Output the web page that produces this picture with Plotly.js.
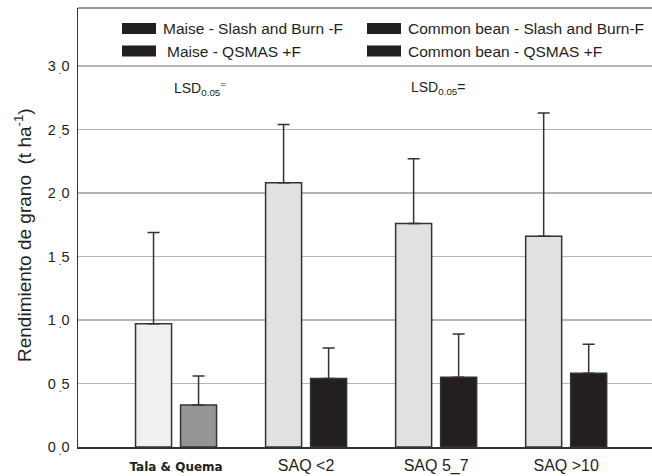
<!DOCTYPE html>
<html><head><meta charset="utf-8">
<script src="https://cdn.plot.ly/plotly-3.0.1.min.js"></script>
<style>html,body{margin:0;padding:0;background:#fff}</style>
</head><body><div id="chart" style="width:652px;height:476px"></div>
<script>
const categories = ["Tala & Quema", "SAQ <2", "SAQ 5_7", "SAQ >10"];
const tickLabels = ["<b><span style='font-family:DejaVu Sans;font-size:12px'>Tala &amp; Quema</span></b>", "SAQ <2", "SAQ 5_7", "SAQ >10"];
const maizeYield = [0.97, 2.08, 1.76, 1.66];
const maizeErr = [0.72, 0.46, 0.51, 0.97];
const beanYield = [0.33, 0.54, 0.55, 0.58];
const beanErr = [0.23, 0.24, 0.34, 0.23];
const maizeColors = ["#eff0ef", "#e0e1e2", "#e0e1e2", "#e0e1e2"];
const beanColors = ["#959595", "#231f20", "#231f20", "#231f20"];
const legendLabels = ["Maise - Slash and Burn -F", "Common bean - Slash and Burn-F", "Maise - QSMAS +F", "Common bean - QSMAS +F"];
const yTickVals = [0, 0.5, 1, 1.5, 2, 2.5, 3];
const yTickText = ["0<sub> .</sub>0", "0<sub> .</sub>5", "1<sub> .</sub>0", "1<sub> .</sub>5", "2<sub> .</sub>0", "2<sub> .</sub>5", "3<sub> .</sub>0"];
const yTitle = "Rendimiento de grano  (t ha<sup>-1</sup>)";

const errStyle = {type: 'data', symmetric: false, thickness: 1.5, width: 6, color: '#333'};
const traces = [
  {type: 'bar', x: categories, y: maizeYield, name: 'Maize',
   marker: {color: maizeColors, line: {color: '#333', width: 1.5}},
   error_y: Object.assign({}, errStyle, {array: maizeErr, arrayminus: maizeErr.map(() => 0)}),
   showlegend: false, hoverinfo: 'skip'},
  {type: 'bar', x: categories, y: beanYield, name: 'Bean',
   marker: {color: beanColors, line: {color: '#333', width: 1.5}},
   error_y: Object.assign({}, errStyle, {array: beanErr, arrayminus: beanErr.map(() => 0)}),
   showlegend: false, hoverinfo: 'skip'}
];

const W = 652, H = 476, L = 78, T = 8, B = 447;
const px = x => (x - L) / (W - L);
const py = y => (B - y) / (B - T);
const FONT = 'Liberation Sans, Arial, sans-serif';
const shapes = [];
const annotations = [];
const swatchX = [122, 367, 122, 367];
const swatchY = [23, 23, 45.5, 45.5];
const textX = [161, 406, 165, 406];
legendLabels.forEach((lab, i) => {
  shapes.push({type: 'rect', xref: 'paper', yref: 'paper',
    x0: px(swatchX[i]), x1: px(swatchX[i] + 34),
    y0: py(swatchY[i] + 11), y1: py(swatchY[i]),
    fillcolor: '#231f20', line: {width: 0}});
  annotations.push({xref: 'paper', yref: 'paper', x: px(textX[i]),
    y: py(swatchY[i] + 6), xanchor: 'left', yanchor: 'middle', showarrow: false,
    text: lab, font: {size: 15.5, color: '#231f20', family: FONT}});
});
annotations.push({xref: 'paper', yref: 'paper', x: px(172), y: py(88),
  xanchor: 'left', yanchor: 'middle', showarrow: false,
  text: 'LSD<sub>0.05</sub><sup>=</sup>', font: {size: 14, color: '#231f20', family: FONT}});
annotations.push({xref: 'paper', yref: 'paper', x: px(409), y: py(88),
  xanchor: 'left', yanchor: 'middle', showarrow: false,
  text: 'LSD<sub>0.05</sub>=', font: {size: 14, color: '#231f20', family: FONT}});
annotations.push({xref: 'paper', yref: 'paper', x: px(23), y: py(235),
  xanchor: 'center', yanchor: 'middle', showarrow: false, textangle: -90,
  text: yTitle, font: {size: 19, color: '#231f20', family: FONT}});

const layout = {
  width: W, height: H,
  margin: {l: L, r: 0, t: T, b: H - B},
  paper_bgcolor: '#fff', plot_bgcolor: '#fff',
  font: {family: FONT, color: '#231f20'},
  barmode: 'group', bargap: 0.3077, bargroupgap: 0.2,
  showlegend: false,
  xaxis: {type: 'category', range: [-0.754, 3.66], tickvals: categories, ticktext: tickLabels,
    showgrid: false, zeroline: false, showline: true, linecolor: '#333', linewidth: 1.5,
    ticks: '', ticklabelstandoff: 3, tickfont: {size: 16, color: '#231f20'}},
  yaxis: {range: [0, 3.457], tickvals: yTickVals, ticktext: yTickText,
    showgrid: true, gridcolor: '#b4b4b4', gridwidth: 1.5, zeroline: false,
    showline: true, linecolor: '#333', linewidth: 1.5, ticks: '', ticklabelstandoff: 4,
    tickfont: {size: 14.5, color: '#231f20'}},
  shapes: [{type: 'line', xref: 'paper', yref: 'paper', x0: 0, x1: 1, y0: 1, y1: 1, line: {color: '#777', width: 1.5}}].concat(shapes),
  annotations: annotations
};
Plotly.newPlot('chart', traces, layout, {displayModeBar: false, staticPlot: true});
</script></body></html>
